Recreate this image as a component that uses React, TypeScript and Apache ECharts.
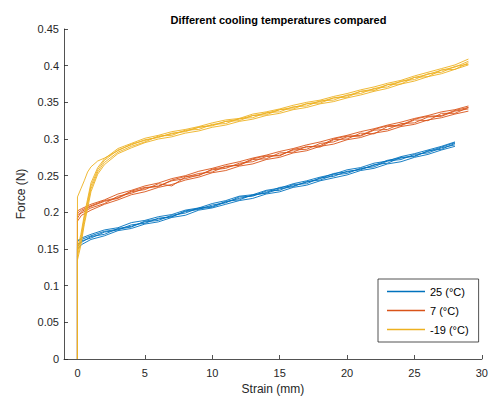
import React, { useEffect, useRef } from "react";
import * as echarts from "echarts";

const title = "Different cooling temperatures compared";
const xName = "Strain (mm)";
const yName = "Force (N)";
const groupNames = ["25 (°C)", "7 (°C)", "-19 (°C)"];
const groupColors = ["#0072BD", "#D95319", "#EDB120"];
const xTicks = [0, 5, 10, 15, 20, 25, 30];

// strain samples for each group
const blueStrain = [0, 0, 0.3, 1, 2, 3, 4, 5, 6, 7, 8, 9, 10, 11, 12, 13, 14, 15, 16, 17, 18, 19, 20, 21, 22, 23, 24, 25, 26, 27, 28];
const redStrain = [0, 0, 0.3, 1, 2, 3, 4, 5, 6, 7, 8, 9, 10, 11, 12, 13, 14, 15, 16, 17, 18, 19, 20, 21, 22, 23, 24, 25, 26, 27, 28, 29];
const yellowStrain = [0, 0, 0.25, 0.5, 0.75, 1, 1.5, 2, 3, 4, 5, 6, 7, 8, 9, 10, 11, 12, 13, 14, 15, 16, 17, 18, 19, 20, 21, 22, 23, 24, 25, 26, 27, 28, 29];

// 25 °C force curves
const blue1 = [0, 0.150, 0.156, 0.163, 0.168, 0.175, 0.178, 0.184, 0.187, 0.193, 0.196, 0.203, 0.206, 0.211, 0.216, 0.219, 0.225, 0.228, 0.234, 0.237, 0.243, 0.247, 0.251, 0.257, 0.260, 0.266, 0.269, 0.275, 0.279, 0.285, 0.290];
const blue2 = [0, 0.160, 0.165, 0.170, 0.176, 0.179, 0.186, 0.189, 0.194, 0.197, 0.203, 0.206, 0.212, 0.216, 0.222, 0.224, 0.230, 0.233, 0.239, 0.243, 0.248, 0.252, 0.258, 0.261, 0.267, 0.270, 0.276, 0.280, 0.285, 0.290, 0.296];
const blue3 = [0, 0.153, 0.161, 0.165, 0.173, 0.176, 0.183, 0.185, 0.192, 0.194, 0.201, 0.204, 0.210, 0.213, 0.221, 0.222, 0.229, 0.230, 0.238, 0.239, 0.247, 0.249, 0.256, 0.258, 0.265, 0.267, 0.275, 0.276, 0.284, 0.286, 0.294];
const blue4 = [0, 0.157, 0.159, 0.167, 0.170, 0.178, 0.181, 0.187, 0.189, 0.196, 0.199, 0.206, 0.208, 0.215, 0.217, 0.224, 0.226, 0.232, 0.235, 0.242, 0.244, 0.251, 0.253, 0.260, 0.262, 0.270, 0.272, 0.279, 0.281, 0.288, 0.292];
const blue5 = [0, 0.162, 0.163, 0.168, 0.174, 0.177, 0.180, 0.188, 0.191, 0.194, 0.202, 0.205, 0.207, 0.214, 0.219, 0.223, 0.227, 0.234, 0.236, 0.241, 0.246, 0.253, 0.255, 0.259, 0.264, 0.271, 0.274, 0.277, 0.283, 0.289, 0.295];

// 7 °C force curves
const red1 = [0, 0.188, 0.196, 0.203, 0.211, 0.217, 0.224, 0.228, 0.234, 0.238, 0.244, 0.248, 0.254, 0.257, 0.263, 0.266, 0.272, 0.275, 0.281, 0.284, 0.290, 0.293, 0.299, 0.302, 0.308, 0.311, 0.317, 0.320, 0.326, 0.329, 0.334, 0.338];
const red2 = [0, 0.202, 0.205, 0.211, 0.217, 0.225, 0.230, 0.236, 0.240, 0.246, 0.250, 0.256, 0.260, 0.265, 0.269, 0.274, 0.278, 0.283, 0.287, 0.292, 0.296, 0.301, 0.305, 0.310, 0.314, 0.319, 0.323, 0.328, 0.332, 0.337, 0.340, 0.345];
const red3 = [0, 0.192, 0.201, 0.208, 0.215, 0.219, 0.228, 0.231, 0.239, 0.236, 0.248, 0.253, 0.255, 0.263, 0.264, 0.272, 0.273, 0.281, 0.282, 0.290, 0.289, 0.299, 0.300, 0.308, 0.307, 0.317, 0.318, 0.326, 0.325, 0.335, 0.335, 0.343];
const red4 = [0, 0.197, 0.199, 0.206, 0.212, 0.222, 0.226, 0.233, 0.236, 0.243, 0.246, 0.251, 0.258, 0.260, 0.267, 0.269, 0.276, 0.278, 0.285, 0.286, 0.294, 0.296, 0.303, 0.304, 0.312, 0.313, 0.321, 0.322, 0.330, 0.331, 0.338, 0.341];
const red5 = [0, 0.199, 0.203, 0.209, 0.216, 0.220, 0.229, 0.234, 0.235, 0.244, 0.249, 0.250, 0.259, 0.262, 0.265, 0.273, 0.277, 0.277, 0.286, 0.289, 0.291, 0.300, 0.304, 0.305, 0.313, 0.318, 0.319, 0.327, 0.331, 0.332, 0.339, 0.343];

// -19 °C force curves
const yellow1 = [0, 0.221, 0.232, 0.243, 0.255, 0.262, 0.270, 0.274, 0.284, 0.293, 0.298, 0.303, 0.307, 0.311, 0.316, 0.319, 0.324, 0.327, 0.332, 0.335, 0.340, 0.343, 0.348, 0.351, 0.356, 0.359, 0.365, 0.368, 0.374, 0.378, 0.384, 0.388, 0.394, 0.398, 0.406];
const yellow2 = [0, 0.135, 0.155, 0.183, 0.205, 0.228, 0.252, 0.265, 0.280, 0.288, 0.295, 0.300, 0.303, 0.308, 0.311, 0.316, 0.319, 0.324, 0.327, 0.332, 0.335, 0.340, 0.343, 0.348, 0.351, 0.356, 0.360, 0.365, 0.369, 0.375, 0.379, 0.385, 0.389, 0.395, 0.401];
const yellow3 = [0, 0.145, 0.165, 0.192, 0.214, 0.236, 0.258, 0.271, 0.285, 0.292, 0.299, 0.302, 0.308, 0.310, 0.316, 0.318, 0.324, 0.325, 0.332, 0.333, 0.340, 0.341, 0.348, 0.349, 0.356, 0.357, 0.365, 0.366, 0.374, 0.375, 0.384, 0.385, 0.394, 0.395, 0.404];
const yellow4 = [0, 0.140, 0.160, 0.187, 0.210, 0.232, 0.255, 0.268, 0.282, 0.290, 0.296, 0.304, 0.305, 0.312, 0.313, 0.320, 0.321, 0.328, 0.329, 0.336, 0.337, 0.344, 0.345, 0.352, 0.353, 0.360, 0.362, 0.369, 0.371, 0.379, 0.381, 0.389, 0.391, 0.399, 0.402];
const yellow5 = [0, 0.150, 0.170, 0.196, 0.218, 0.240, 0.261, 0.273, 0.287, 0.294, 0.301, 0.305, 0.310, 0.313, 0.317, 0.322, 0.326, 0.328, 0.334, 0.337, 0.341, 0.346, 0.350, 0.353, 0.358, 0.362, 0.367, 0.371, 0.376, 0.380, 0.386, 0.391, 0.396, 0.401, 0.409];

const groups = [
  { strain: blueStrain, curves: [blue1, blue2, blue3, blue4, blue5] },
  { strain: redStrain, curves: [red1, red2, red3, red4, red5] },
  { strain: yellowStrain, curves: [yellow1, yellow2, yellow3, yellow4, yellow5] },
];

const FONT = "'Liberation Sans', Arial, Helvetica, sans-serif";
const AX = "#262626";

export default function App() {
  const ref = useRef<HTMLDivElement>(null);
  useEffect(() => {
    if (!ref.current) return;
    document.body.style.margin = "0";
    const chart = echarts.init(ref.current, null, { renderer: "svg" });
    const series: any[] = [];
    groups.forEach((g, gi) => {
      g.curves.forEach((c) => {
        series.push({
          type: "line",
          name: groupNames[gi],
          data: g.strain.map((x, i) => [x, c[i]]),
          symbol: "none",
          showSymbol: false,
          lineStyle: { color: groupColors[gi], width: 0.9 },
          itemStyle: { color: groupColors[gi] },
          emphasis: { disabled: true },
          silent: true,
        });
      });
    });
    chart.setOption({
      animation: false,
      backgroundColor: "#ffffff",
      textStyle: { fontFamily: FONT },
      title: {
        text: title,
        left: 273.5,
        textAlign: "center",
        top: 9,
        textStyle: { fontSize: 11, fontWeight: "bold", color: "#000", fontFamily: FONT },
      },
      legend: {
        data: groupNames.map((n, i) => ({
          name: n,
          icon: "rect",
          itemStyle: { color: groupColors[i], borderWidth: 0, opacity: 1 },
        })),
        orient: "vertical",
        left: 378,
        top: 279,
        padding: [7, 10, 7, 9],
        itemWidth: 38,
        itemHeight: 1.5,
        itemGap: 8,
        backgroundColor: "#fff",
        borderColor: AX,
        borderWidth: 0.8,
        borderRadius: 0,
        selectedMode: false,
        textStyle: { fontSize: 11, color: "#000", fontFamily: FONT },
      },
      grid: { left: 64, right: 8, top: 29, bottom: 42, containLabel: false },
      xAxis: {
        type: "value",
        min: -1,
        max: 30,
        name: xName,
        nameLocation: "middle",
        nameGap: 24,
        nameTextStyle: { fontSize: 12, color: AX, fontFamily: FONT },
        axisLine: { show: true, onZero: false, lineStyle: { color: AX, width: 0.8 } },
        axisTick: { show: true, inside: true, length: 4, customValues: xTicks, lineStyle: { color: AX, width: 0.8 } },
        axisLabel: { customValues: xTicks, fontSize: 11, color: AX, margin: 8, fontFamily: FONT },
        splitLine: { show: false },
      },
      yAxis: {
        type: "value",
        min: 0,
        max: 0.45,
        interval: 0.05,
        name: yName,
        nameLocation: "middle",
        nameGap: 35,
        nameTextStyle: { fontSize: 12, color: AX, fontFamily: FONT },
        axisLine: { show: true, onZero: false, lineStyle: { color: AX, width: 0.8 } },
        axisTick: { show: true, inside: true, length: 4, lineStyle: { color: AX, width: 0.8 } },
        axisLabel: { fontSize: 11, color: AX, margin: 5, fontFamily: FONT, formatter: (v: number) => String(+v.toFixed(2)) },
        splitLine: { show: false },
      },
      series,
    });
    return () => chart.dispose();
  }, []);
  return <div ref={ref} style={{ width: 491, height: 401 }} />;
}
